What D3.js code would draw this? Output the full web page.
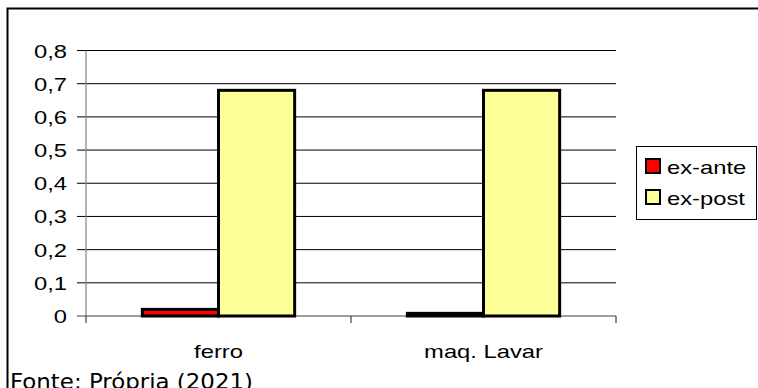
<!DOCTYPE html>
<html>
<head>
<meta charset="utf-8">
<script src="https://cdn.jsdelivr.net/npm/d3@7"></script>
<style>
  html, body { margin: 0; padding: 0; background: #fff; overflow: hidden; }
  svg { display: block; }
</style>
</head>
<body>
<svg id="chart" width="758" height="388"></svg>
<script>
// Categories, series and values
const categories = ["ferro", "maq. Lavar"];
const seriesNames = ["ex-ante", "ex-post"];
const exAnte = [0.02, 0.008];
const exPost = [0.68, 0.68];
const yTicks = [0, 0.1, 0.2, 0.3, 0.4, 0.5, 0.6, 0.7, 0.8];
const yTickLabels = ["0", "0,1", "0,2", "0,3", "0,4", "0,5", "0,6", "0,7", "0,8"];
const sourceNote = "Fonte: Própria (2021)";

const seriesColors = {"ex-ante": "#ff0000", "ex-post": "#ffff99"};
const rows = categories.map((c, i) => ({cat: c, values: [
  {name: "ex-ante", v: exAnte[i]},
  {name: "ex-post", v: exPost[i]}
]}));

const svg = d3.select("#chart");
const font = "'Liberation Sans', Arial, sans-serif";
const SX = 1.25; // horizontal text stretch of the chart

// Outer frame (runs past the right and bottom edges)
svg.append("path")
  .attr("d", "M7.5,400 V8.5 H770")
  .attr("fill", "none").attr("stroke", "#000").attr("stroke-width", 2);

const plot = {left: 86, right: 616, top: 50.5, bottom: 316};

const y = d3.scaleLinear().domain([0, 0.8]).range([plot.bottom, plot.top]);
const x0 = d3.scaleBand().domain(categories).range([plot.left, plot.right]).padding(0);
const x1 = d3.scaleBand().domain(seriesNames).range([0, x0.bandwidth()])
  .paddingInner(0).paddingOuter(0.74);

// Gridlines with tick stubs
svg.append("g").selectAll("line").data(yTicks.filter(t => t > 0)).join("line")
  .attr("x1", plot.left - 9).attr("x2", plot.right)
  .attr("y1", d => y(d)).attr("y2", d => y(d))
  .attr("stroke", "#000").attr("stroke-width", 1);

// Y axis line
svg.append("line")
  .attr("x1", plot.left).attr("x2", plot.left)
  .attr("y1", y(0.8)).attr("y2", plot.bottom)
  .attr("stroke", "#808080").attr("stroke-width", 1.2);

// X axis line and category tick marks
svg.append("line")
  .attr("x1", plot.left - 9).attr("x2", plot.right)
  .attr("y1", plot.bottom).attr("y2", plot.bottom)
  .attr("stroke", "#404040").attr("stroke-width", 1.2);
const bounds = [plot.left, ...categories.map(c => x0(c) + x0.bandwidth())];
svg.append("g").selectAll("line").data(bounds).join("line")
  .attr("x1", d => d).attr("x2", d => d)
  .attr("y1", plot.bottom).attr("y2", plot.bottom + 7)
  .attr("stroke", "#404040").attr("stroke-width", 1.2);

// Y tick labels
svg.append("g").selectAll("text").data(yTicks).join("text")
  .attr("transform", d => `translate(67,${y(d) + 7}) scale(${SX},1)`)
  .attr("text-anchor", "end")
  .attr("font-family", font).attr("font-size", 19)
  .attr("fill", "#000")
  .text((d, i) => yTickLabels[i]);

// Bars
const groups = svg.append("g").selectAll("g").data(rows).join("g")
  .attr("transform", d => `translate(${x0(d.cat)},0)`);
groups.selectAll("rect").data(d => d.values).join("rect")
  .attr("x", d => x1(d.name))
  .attr("y", d => y(d.v))
  .attr("width", x1.bandwidth())
  .attr("height", d => y(0) - y(d.v))
  .attr("fill", d => seriesColors[d.name])
  .attr("stroke", "#000").attr("stroke-width", 3);

// Category labels
svg.append("g").selectAll("text").data(categories).join("text")
  .attr("transform", d => `translate(${x0(d) + x0.bandwidth() / 2},358) scale(${SX},1)`)
  .attr("text-anchor", "middle")
  .attr("font-family", font).attr("font-size", 19)
  .attr("fill", "#000")
  .text(d => d);

// Legend
const legend = svg.append("g");
legend.append("rect")
  .attr("x", 636.5).attr("y", 146.5).attr("width", 120).attr("height", 73)
  .attr("fill", "#fff").attr("stroke", "#000").attr("stroke-width", 1);
const items = legend.selectAll("g").data(seriesNames).join("g")
  .attr("transform", (d, i) => `translate(0,${i * 31})`);
items.append("rect")
  .attr("x", 646).attr("y", 159).attr("width", 14).attr("height", 14)
  .attr("fill", d => seriesColors[d])
  .attr("stroke", "#000").attr("stroke-width", 2);
items.append("text")
  .attr("transform", `translate(667,174) scale(${SX},1)`)
  .attr("font-family", font).attr("font-size", 19)
  .attr("fill", "#000")
  .text(d => d);

// Source note
svg.append("text")
  .attr("x", 10).attr("y", 389)
  .attr("font-family", "'DejaVu Sans', Verdana, sans-serif")
  .attr("font-size", 21)
  .attr("textLength", 243).attr("lengthAdjust", "spacingAndGlyphs")
  .attr("fill", "#000")
  .text(sourceNote);
</script>
</body>
</html>
